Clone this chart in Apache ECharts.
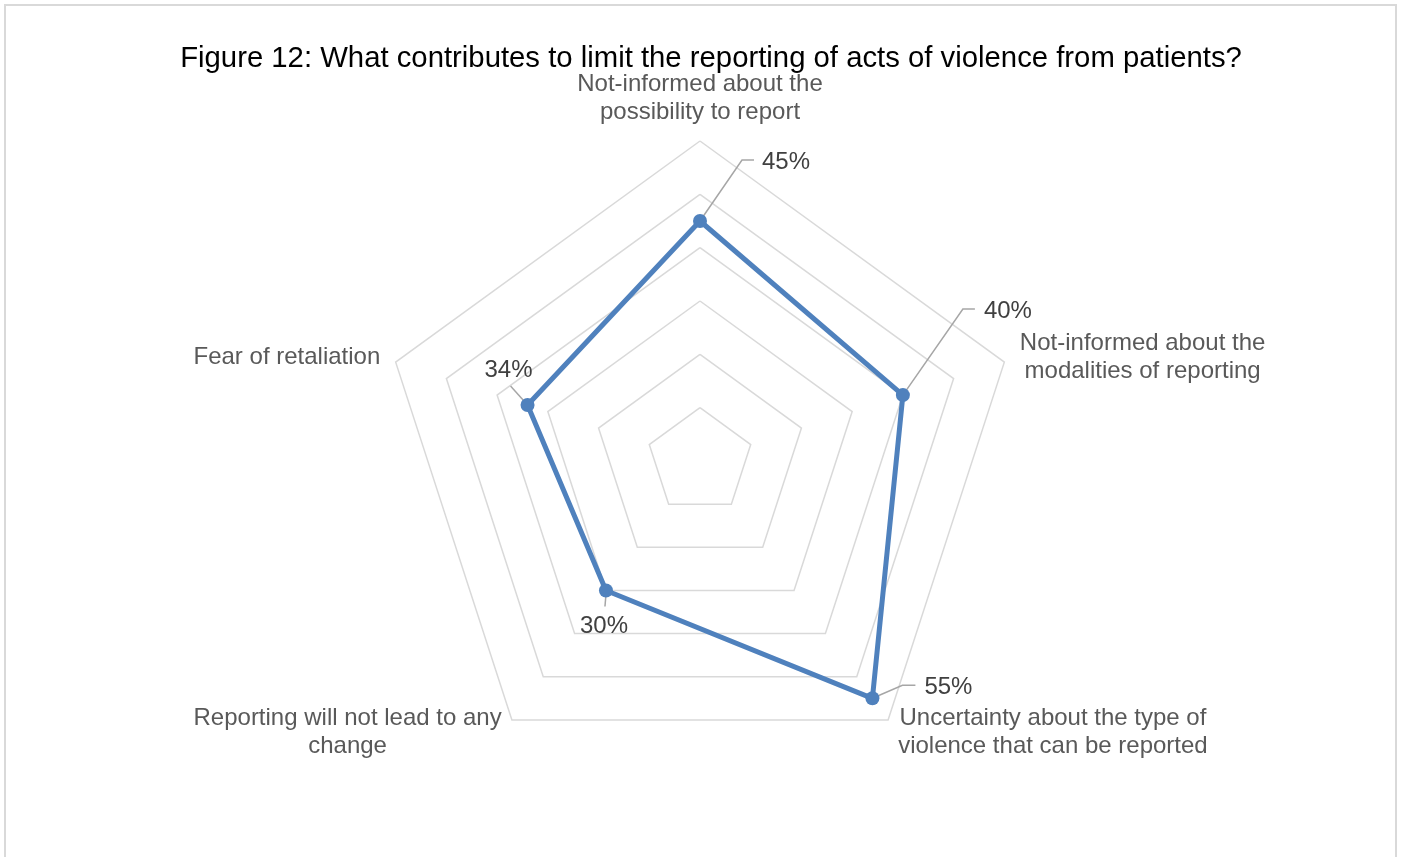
<!DOCTYPE html>
<html>
<head>
<meta charset="utf-8">
<script src="https://cdn.jsdelivr.net/npm/echarts@6/dist/echarts.min.js"></script>
<style>
  html, body { margin: 0; padding: 0; background: #fff; }
  #chart { width: 1401px; height: 857px; }
</style>
</head>
<body>
<div id="chart"></div>
<script>
// Categories in clockwise order, starting at the top
const categories = [
  'Not-informed about the\npossibility to report',
  'Not-informed about the\nmodalities of reporting',
  'Uncertainty about the type of\nviolence that can be reported',
  'Reporting will not lead to any\nchange',
  'Fear of retaliation'
];
// Share of respondents (%)
const shares = [45, 40, 55, 30, 34];
const scaleMax = 60;
const scaleSteps = 6;

const FONT = '"Liberation Sans", Arial, sans-serif';
const LINE_COLOR = '#4F81BD';

// ECharts places radar indicators counter-clockwise, so reverse all but the first
const order = [0, 4, 3, 2, 1];
const indicatorNames = order.map(i => categories[i]);
const indicatorValues = order.map(i => shares[i]);

// Measure label lines so every line of a name can be centred in its block
const ctx = document.createElement('canvas').getContext('2d');
ctx.font = '24px ' + FONT;
const rich = {};
indicatorNames.forEach((n, k) => {
  const w = Math.max(...n.split('\n').map(l => ctx.measureText(l).width));
  rich['n' + k] = { width: Math.ceil(w) + 2, align: 'center', fontSize: 24, lineHeight: 28, color: '#595959', fontFamily: FONT };
});

// Data-label placement relative to each point (clockwise category order):
// leader polyline offsets, text offset and alignment
const labelLayout = [
  { line: [[0, 0], [42, -61], [54, -61]], text: [62, -59], align: 'left' },
  { line: [[0, 0], [60, -86], [72, -86]], text: [81, -84], align: 'left' },
  { line: [[0, 0], [30, -13], [43, -13]], text: [52, -11], align: 'left' },
  { line: [[0, 4], [-1, 16]], text: [-2, 36], align: 'center' },
  { line: [[0, 0], [-17, -19]], text: [-19, -35], align: 'center' }
];

const chart = echarts.init(document.getElementById('chart'), null, { renderer: 'canvas' });

const option = {
  animation: false,
  backgroundColor: '#fff',
  title: {
    text: 'Figure 12: What contributes to limit the reporting of acts of violence from patients?',
    left: 711,
    textAlign: 'center',
    top: 44,
    padding: 0,
    textStyle: { fontFamily: FONT, fontSize: 29.3, fontWeight: 'normal', color: '#000', lineHeight: 30 }
  },
  radar: {
    center: [700, 461],
    radius: 320,
    startAngle: 90,
    shape: 'polygon',
    splitNumber: scaleSteps,
    axisNameGap: 15,
    indicator: indicatorNames.map(n => ({ name: n, min: 0, max: scaleMax })),
    axisName: {
      formatter: (name) => {
        const k = indicatorNames.indexOf(name);
        return name.split('\n').map(l => '{n' + k + '|' + l + '}').join('\n');
      },
      rich: rich,
      fontFamily: FONT,
      fontSize: 24,
      lineHeight: 28,
      color: '#595959'
    },
    axisLine: { show: false },
    axisTick: { show: false },
    axisLabel: { show: false },
    splitArea: { show: false },
    splitLine: { lineStyle: { color: '#D9D9D9', width: 1.5 } }
  },
  series: [{
    type: 'radar',
    z: 3,
    symbol: 'circle',
    symbolSize: 14,
    lineStyle: { color: LINE_COLOR, width: 5 },
    itemStyle: { color: LINE_COLOR },
    data: [{ value: indicatorValues, name: 'Share' }]
  }]
};

chart.setOption(option);

// Value labels with leader lines, anchored on the points the radar places
const cs = chart.getModel().getComponent('radar', 0).coordinateSystem;
const graphics = [{
  type: 'rect',
  shape: { x: 5, y: 5, width: 1391, height: 900 },
  style: { fill: 'none', stroke: '#D9D9D9', lineWidth: 2 },
  silent: true, z: 0
}];
shares.forEach((v, i) => {
  const k = order.indexOf(i);
  const p = cs.dataToPoint(v, k);
  const lay = labelLayout[i];
  graphics.push({
    type: 'polyline',
    shape: { points: lay.line.map(o => [p[0] + o[0], p[1] + o[1]]) },
    style: { stroke: '#A6A6A6', lineWidth: 1.5, fill: 'none' },
    silent: true, z: 1
  });
  graphics.push({
    type: 'text',
    x: p[0] + lay.text[0],
    y: p[1] + lay.text[1],
    style: {
      text: v + '%',
      fill: '#404040',
      font: '24px ' + FONT,
      align: lay.align,
      verticalAlign: 'middle'
    },
    silent: true, z: 5
  });
});
chart.setOption({ graphic: graphics });
</script>
</body>
</html>
